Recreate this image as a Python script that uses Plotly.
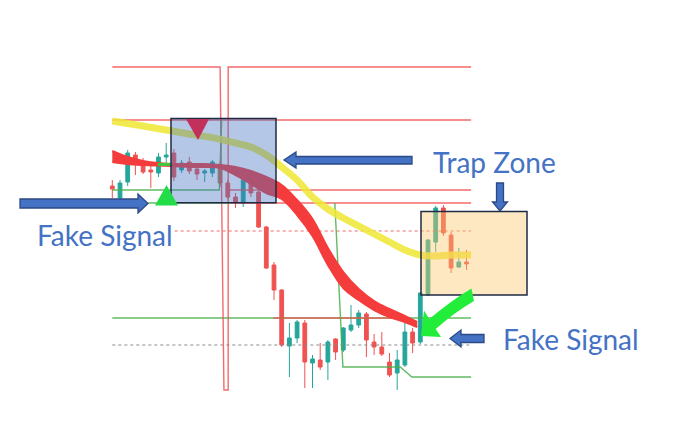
import plotly.graph_objects as go

W, H = 700, 422

# ---------------- data (price units, x = candle index) ----------------
candle_index = list(range(47))
opens = [103.5, 100.5, 104.5, 111.25, 109.25, 107.5, 106.75, 110.75, 111.75, 107.5,
         109.5, 107.75, 106.75, 106.75, 108.75, 104.25, 100.75, 99.25, 104.5, 102.0,
         93.25, 83.75, 77.5, 63.5, 65.5, 69.25, 59.25, 60.0, 59.5, 65.25,
         62.5, 67.5, 68.75, 71.5, 64.5, 63.25, 59.5, 56.75, 58.75, 67.0,
         64.5, 76.25, 89.5, 98.0, 91.25, 83.25, 84.5]
highs = [105.0, 105.0, 112.5, 112.0, 110.5, 108.5, 111.75, 114.25, 112.75, 110.0,
         110.75, 109.25, 107.75, 110.0, 109.5, 105.0, 101.75, 106.25, 105.5, 103.0,
         93.5, 84.5, 77.75, 69.25, 70.0, 70.0, 61.25, 64.25, 65.0, 65.5,
         68.25, 73.75, 72.5, 72.0, 66.5, 67.0, 61.75, 62.5, 70.0, 68.0,
         77.0, 90.25, 98.5, 98.75, 92.0, 88.0, 87.5]
lows = [100.5, 100.0, 103.5, 106.25, 106.5, 103.0, 105.75, 109.0, 104.75, 106.75,
        106.5, 105.0, 104.5, 105.75, 103.25, 100.25, 98.0, 98.25, 100.75, 93.0,
        82.75, 75.0, 63.25, 55.75, 64.25, 53.0, 53.0, 57.5, 55.0, 60.0,
        62.0, 67.0, 68.0, 60.75, 61.25, 61.0, 55.75, 52.5, 58.25, 61.75,
        64.0, 76.0, 87.0, 91.0, 81.75, 83.0, 82.5]
closes = [102.75, 104.25, 111.75, 109.25, 107.0, 107.0, 110.75, 111.25, 105.75, 109.25,
          107.25, 106.5, 107.25, 109.5, 104.25, 100.75, 99.25, 105.0, 101.75, 93.25,
          83.0, 77.5, 63.75, 65.5, 69.5, 59.5, 60.25, 58.25, 64.5, 62.0,
          68.0, 68.75, 71.75, 65.0, 63.25, 61.5, 56.25, 60.0, 67.0, 64.25,
          76.75, 90.0, 98.0, 91.75, 83.0, 84.5, 84.0]

# slow moving average (yellow)
slow_ma_index = [0, 4, 7, 10, 13, 16, 18, 20, 22, 24, 26, 28, 30, 32, 34, 36, 38, 40, 42, 44, 46.6]
slow_ma_value = [119.75, 118.5, 117.5, 116.5, 115.6, 114.25, 113.25, 111.25, 108.25, 105.0,
                 100.75, 97.75, 95.5, 93.5, 91.5, 89.5, 87.5, 86.25, 86.0, 86.25, 86.25]

# fast MA cloud (red ribbon): upper and lower edges
cloud_index = [0, 2, 4, 6, 7.75, 10, 12, 14, 16, 18, 20, 22, 24, 26, 28, 30, 32, 34, 36, 38, 39.6]
cloud_upper = [112.25, 110.75, 109.75, 109.25, 109.0, 109.0, 109.0, 108.75, 108.25, 107.25, 105.75,
               103.75, 100.0, 95.25, 88.0, 82.0, 77.75, 74.75, 72.75, 71.0, 69.5]
cloud_lower = [109.5, 109.0, 108.75, 108.6, 108.5, 108.25, 108.25, 108.0, 106.25, 104.0, 101.75,
               100.25, 96.25, 91.0, 83.75, 78.0, 75.0, 72.5, 70.75, 69.5, 68.25]
cloud_bull_index = [5.9, 7.75]
cloud_bull_value = [108.9, 108.9]

# resistance line with spike
resist_index = [0, 14, 14.5, 15.05, 15.05, 46.6]
resist_value = [133.25, 133.25, 52.5, 52.5, 133.25, 133.25]

# horizontal levels
red_level_value = [120.0, 102.5, 99.25, 70.5]
red_level_start = [0, 15, 15.2, 20.9]
red_level_end = [46.6, 46.6, 46.6, 37.4]
green_level_value = [70.5]
green_level_start = [0]
green_level_end = [46.6]
dotted_red_value = 92.25
dotted_red_span = [8.1, 46.6]
dotted_gray_value = 63.75
dotted_gray_span = [0, 46.6]

# trailing stop (green step lines)
stop1_index = [0, 13.9, 14.2]
stop1_value = [102.5, 102.5, 120.0]
stop2_index = [4.6, 15.2]
stop2_value = [99.25, 99.25]
stop3_index = [28.9, 29.95, 37.4, 38.9, 46.6]
stop3_value = [99.25, 58.25, 58.25, 55.75, 55.75]

labels = ["Trap Zone", "Fake Signal", "Fake Signal"]

# ---------------- figure ----------------
RED = "rgba(240,80,80,0.85)"
GREEN = "rgba(70,175,70,0.85)"

fig = go.Figure()

for v, s, e in zip(green_level_value, green_level_start, green_level_end):
    fig.add_trace(go.Scatter(x=[s, e], y=[v, v], mode="lines", line=dict(color=GREEN, width=1.4)))
fig.add_trace(go.Scatter(x=dotted_red_span, y=[dotted_red_value] * 2, mode="lines",
                         line=dict(color="rgba(240,90,90,0.9)", width=1.2, dash="dot")))
fig.add_trace(go.Scatter(x=dotted_gray_span, y=[dotted_gray_value] * 2, mode="lines",
                         line=dict(color="#8a8a8a", width=1.2, dash="dot")))
for v, s, e in zip(red_level_value, red_level_start, red_level_end):
    fig.add_trace(go.Scatter(x=[s, e], y=[v, v], mode="lines", line=dict(color=RED, width=1.4)))
fig.add_trace(go.Scatter(x=resist_index, y=resist_value, mode="lines", line=dict(color=RED, width=1.4)))
for xs, ys in [(stop1_index, stop1_value), (stop2_index, stop2_value), (stop3_index, stop3_value)]:
    fig.add_trace(go.Scatter(x=xs, y=ys, mode="lines", line=dict(color=GREEN, width=1.4)))

# yellow slow MA
fig.add_trace(go.Scatter(x=slow_ma_index, y=slow_ma_value, mode="lines",
                         line=dict(color="rgba(238,232,50,0.85)", width=7, shape="spline")))
# red cloud
fig.add_trace(go.Scatter(x=cloud_index, y=cloud_lower, mode="lines",
                         line=dict(color="rgb(245,60,60)", width=2, shape="spline")))
fig.add_trace(go.Scatter(x=cloud_index, y=cloud_upper, mode="lines", fill="tonexty",
                         fillcolor="rgb(245,60,60)",
                         line=dict(color="rgb(245,60,60)", width=2, shape="spline")))
fig.add_trace(go.Scatter(x=cloud_bull_index, y=cloud_bull_value, mode="lines",
                         line=dict(color="rgb(60,200,60)", width=3)))

# candles
fig.add_trace(go.Candlestick(
    x=candle_index, open=opens, high=highs, low=lows, close=closes,
    increasing=dict(line=dict(color="#26a69a", width=1), fillcolor="#26a69a"),
    decreasing=dict(line=dict(color="#ef5350", width=1), fillcolor="#ef5350"),
    whiskerwidth=0,
))


def pth(segs):
    out = []
    for seg in segs:
        cmd = seg[0]
        pts = [f"{px / W:.5f},{1 - py / H:.5f}" for (px, py) in seg[1:]]
        out.append(cmd + " " + " ".join(pts))
    return " ".join(out)


def rect(x0, y0, x1, y1, fill):
    return dict(type="rect", xref="paper", yref="paper", x0=x0 / W, x1=x1 / W,
                y0=1 - y1 / H, y1=1 - y0 / H, fillcolor=fill,
                line=dict(color="#1f2a44", width=1.5), layer="above")


def poly(segs, fill, line=None):
    return dict(type="path", xref="paper", yref="paper", path=pth(segs), fillcolor=fill,
                line=line or dict(width=0), layer="above")


BLUE_LINE = dict(color="#2b4a85", width=1.3)
BLUE = "#4472c4"
shapes = [
    rect(171, 118.5, 276, 202.7, "rgba(68,114,196,0.40)"),
    rect(421, 211.5, 527, 295, "rgba(250,200,110,0.42)"),
    poly([("M", (186, 119)), ("L", (209, 119)), ("L", (198, 140)), ("Z",)], "#c2305c"),
    poly([("M", (155, 205.5)), ("L", (178, 205.5)), ("L", (166.5, 185)), ("Z",)], "#22dd48"),
    # green curved arrow
    poly([("M", (471.5, 288.5)), ("Q", (452, 300), (429.3, 319)), ("L", (424, 310.5)),
          ("L", (421, 336)), ("L", (441, 337)), ("L", (435.7, 329)),
          ("Q", (455, 312), (474, 301)), ("Z",)], "#22ee3a"),
    # blue block arrows
    poly([("M", (20, 199)), ("L", (138, 199)), ("L", (138, 194)), ("L", (148, 203.5)),
          ("L", (138, 213)), ("L", (138, 208)), ("L", (20, 208)), ("Z",)], BLUE, BLUE_LINE),
    poly([("M", (412, 156.5)), ("L", (296, 156.5)), ("L", (296, 152)), ("L", (284, 160)),
          ("L", (296, 168)), ("L", (296, 164)), ("L", (412, 164)), ("Z",)], BLUE, BLUE_LINE),
    poly([("M", (496.5, 183)), ("L", (503.5, 183)), ("L", (503.5, 202)), ("L", (507.5, 202)),
          ("L", (500, 211)), ("L", (492.5, 202)), ("L", (496.5, 202)), ("Z",)], BLUE, BLUE_LINE),
    poly([("M", (484, 334.5)), ("L", (461, 334.5)), ("L", (461, 330)), ("L", (450, 338.5)),
          ("L", (461, 347)), ("L", (461, 342.5)), ("L", (484, 342.5)), ("Z",)], BLUE, BLUE_LINE),
]

font = dict(family="Lato, Calibri, sans-serif", size=28, color="#4472c4")
annotations = [
    dict(text=labels[0], x=431 / W, y=1 - 162 / H, xref="paper", yref="paper",
         xanchor="left", yanchor="middle", showarrow=False, font=font),
    dict(text=labels[1], x=35 / W, y=1 - 235.5 / H, xref="paper", yref="paper",
         xanchor="left", yanchor="middle", showarrow=False, font=font),
    dict(text=labels[2], x=501 / W, y=1 - 338.5 / H, xref="paper", yref="paper",
         xanchor="left", yanchor="middle", showarrow=False, font=font),
]

fig.update_layout(
    width=W, height=H, margin=dict(l=0, r=0, t=0, b=0),
    paper_bgcolor="white", plot_bgcolor="white", showlegend=False,
    xaxis=dict(range=[-14.584, 76.325], visible=False, rangeslider=dict(visible=False), fixedrange=True),
    yaxis=dict(range=[44.5, 150], visible=False, fixedrange=True),
    shapes=shapes, annotations=annotations,
)

fig.write_html("out.html", config=dict(displayModeBar=False),
               post_script="document.body.style.margin='0px';document.body.style.padding='0px';")
